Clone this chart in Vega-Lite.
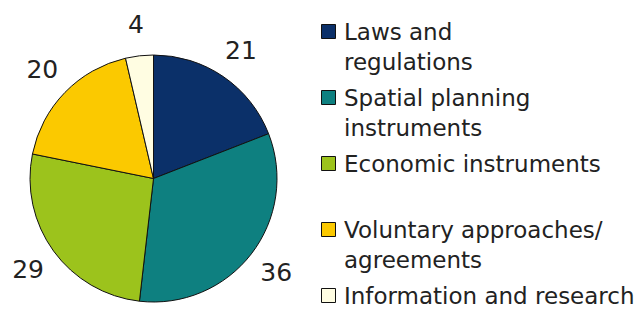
{
  "$schema": "https://vega.github.io/schema/vega-lite/v6.json",
  "width": 247,
  "height": 247,
  "autosize": {"type": "none"},
  "padding": {"left": 30, "top": 55, "right": 365, "bottom": 15},
  "background": "white",
  "data": {
    "values": [
      {"category": "Laws and regulations", "value": 21, "order": 1},
      {"category": "Spatial planning instruments", "value": 36, "order": 2},
      {"category": "Economic instruments", "value": 29, "order": 3},
      {"category": "Voluntary approaches/ agreements", "value": 20, "order": 4},
      {"category": "Information and research", "value": 4, "order": 5}
    ]
  },
  "encoding": {
    "theta": {"field": "value", "type": "quantitative", "stack": true},
    "order": {"field": "order", "type": "quantitative"}
  },
  "layer": [
    {
      "mark": {"type": "arc", "outerRadius": 123.5, "stroke": "#111", "strokeWidth": 1},
      "encoding": {
        "color": {
          "field": "category",
          "type": "nominal",
          "sort": ["Laws and regulations", "Spatial planning instruments", "Economic instruments", "Voluntary approaches/ agreements", "Information and research"],
          "scale": {
            "domain": ["Laws and regulations", "Spatial planning instruments", "Economic instruments", "Voluntary approaches/ agreements", "Information and research"],
            "range": ["#0b3069", "#0e8080", "#9cc31c", "#fbc900", "#fffde2"]
          },
          "legend": {
            "orient": "none",
            "legendX": 287,
            "legendY": -35,
            "title": null,
            "padding": 0,
            "symbolType": "square",
            "symbolSize": 196,
            "symbolStrokeColor": "#111",
            "symbolStrokeWidth": 1,
            "labelFont": "DejaVu Sans",
            "labelFontSize": 23,
            "labelColor": "#222",
            "labelLimit": 400,
            "labelOffset": 4,
            "rowPadding": 11,
            "labelBaseline": "alphabetic",
            "labelExpr": "datum.label == 'Laws and regulations' ? ['Laws and', 'regulations'] : datum.label == 'Spatial planning instruments' ? ['Spatial planning', 'instruments'] : datum.label == 'Economic instruments' ? ['Economic instruments', ' '] : datum.label == 'Voluntary approaches/ agreements' ? ['Voluntary approaches/', 'agreements'] : datum.label",
            "encode": {
              "labels": {"update": {"dy": {"value": 8}, "lineHeight": {"value": 30}}}
            }
          }
        }
      }
    },
    {
      "mark": {"type": "text", "radius": 155, "fontSize": 25, "font": "DejaVu Sans", "color": "#222", "baseline": "middle", "align": "center"},
      "encoding": {
        "text": {"field": "value", "type": "quantitative"}
      }
    }
  ],
  "config": {"view": {"stroke": null}}
}
